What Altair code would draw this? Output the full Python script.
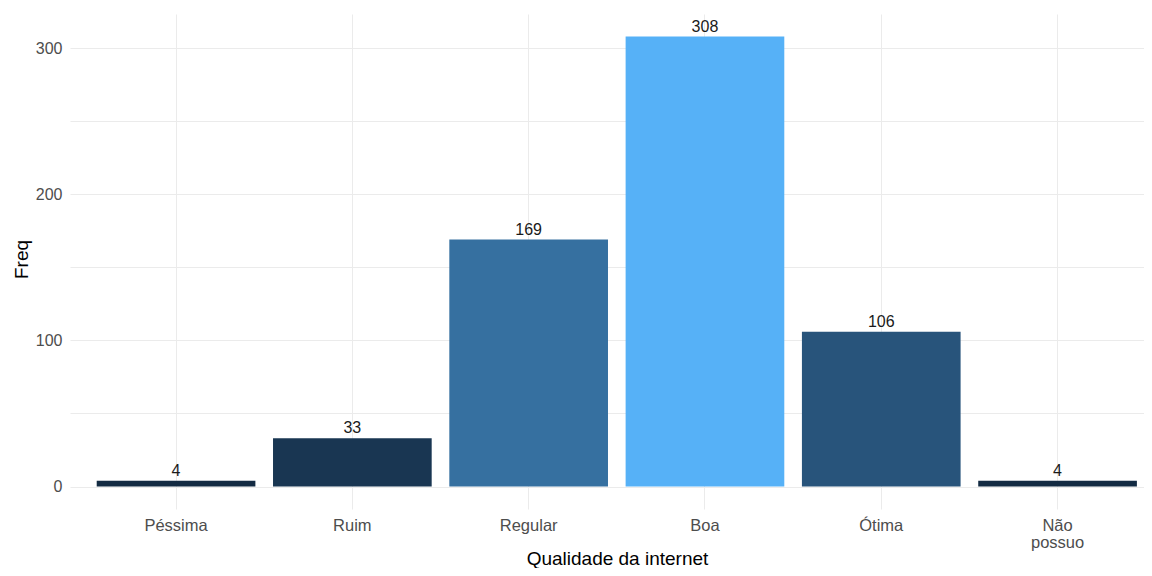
import altair as alt
import pandas as pd

categories = ["Péssima", "Ruim", "Regular", "Boa", "Ótima", "Não possuo"]
freq = [4, 33, 169, 308, 106, 4]
y_grid_values = [0, 50, 100, 150, 200, 250, 300]

df = pd.DataFrame({"Qualidade": categories, "Freq": freq})

FONT = "Liberation Sans"

x_enc = alt.X(
    "Qualidade:N",
    sort=categories,
    title="Qualidade da internet",
    scale=alt.Scale(paddingInner=0.1, paddingOuter=0.0959, align=0.79),
    axis=alt.Axis(
        labelAngle=0,
        labelExpr="datum.label == 'Não possuo' ? ['Não', 'possuo'] : datum.label",
        labelLineHeight=17,
        labelBaseline="top",
        labelPadding=8,
        bandPosition=0.5,
        tickExtra=False,
        grid=True,
        gridColor="#EBEBEB",
        gridWidth=1,
        domain=False,
        ticks=False,
        labelColor="#4D4D4D",
        labelFontSize=16.5,
        titleFontSize=19,
        titleColor="#000000",
        titleFontWeight="normal",
        titleBaseline="alphabetic",
        titleAlign="center",
        titleX=547,
        titleY=55,
        labelFont=FONT,
        titleFont=FONT,
    ),
)

y_enc = alt.Y(
    "Freq:Q",
    title="Freq",
    scale=alt.Scale(domain=[-15.4, 323.4], nice=False, zero=False),
    axis=alt.Axis(
        values=y_grid_values,
        labelExpr="datum.value % 100 == 0 ? datum.label : ''",
        grid=True,
        gridColor="#EBEBEB",
        gridWidth=1,
        domain=False,
        ticks=False,
        labelPadding=8,
        labelColor="#4D4D4D",
        labelFontSize=16,
        titleFontSize=19,
        titleColor="#000000",
        titleFontWeight="normal",
        titleBaseline="alphabetic",
        titleX=-43,
        titleY=245,
        labelFont=FONT,
        titleFont=FONT,
    ),
)

bars = alt.Chart(df).mark_bar().encode(
    x=x_enc,
    y=y_enc,
    y2=alt.datum(0),
    color=alt.Color(
        "Freq:Q",
        scale=alt.Scale(domain=[4, 308], range=["#132B43", "#56B1F7"], interpolate="lab"),
        legend=None,
    ),
)

labels = alt.Chart(df).mark_text(
    baseline="alphabetic", dy=-5, fontSize=16, font=FONT, color="#1A1A1A"
).encode(
    x=alt.X("Qualidade:N", sort=categories),
    y=alt.Y("Freq:Q"),
    text=alt.Text("Freq:Q"),
)

chart = (
    alt.layer(bars, labels)
    .properties(
        width=1074,
        height=495,
        autosize=alt.AutoSizeParams(type="none"),
        padding={"left": 62, "top": 6, "right": 0, "bottom": 59},
        view=alt.ViewBackground(stroke="transparent", strokeWidth=0),
    )
    .configure_view(stroke="transparent", strokeWidth=0)
    .configure(background="white")
)

chart.save("out.html", embed_options={"renderer": "svg", "actions": False})
